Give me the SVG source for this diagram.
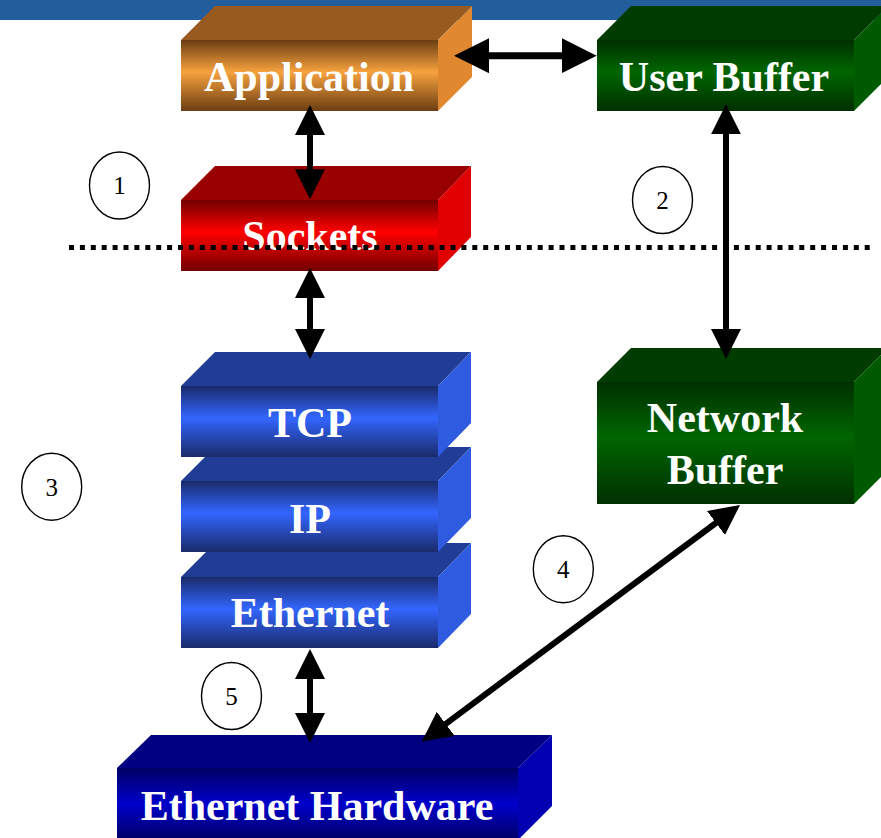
<svg xmlns="http://www.w3.org/2000/svg" width="881" height="838" viewBox="0 0 881 838">
  <defs>
    <linearGradient id="g-orange" x1="0" y1="0" x2="0" y2="1">
      <stop offset="0" stop-color="#6B3D12"/>
      <stop offset="0.45" stop-color="#F7A23E"/>
      <stop offset="1" stop-color="#6B3D12"/>
    </linearGradient>
    <linearGradient id="g-green" x1="0" y1="0" x2="0" y2="1">
      <stop offset="0" stop-color="#002F00"/>
      <stop offset="0.45" stop-color="#006600"/>
      <stop offset="1" stop-color="#002F00"/>
    </linearGradient>
    <linearGradient id="g-red" x1="0" y1="0" x2="0" y2="1">
      <stop offset="0" stop-color="#720000"/>
      <stop offset="0.45" stop-color="#FF0000"/>
      <stop offset="1" stop-color="#720000"/>
    </linearGradient>
    <linearGradient id="g-blue" x1="0" y1="0" x2="0" y2="1">
      <stop offset="0" stop-color="#1A2A6A"/>
      <stop offset="0.45" stop-color="#3366FF"/>
      <stop offset="1" stop-color="#1A2A6A"/>
    </linearGradient>
    <linearGradient id="g-navy" x1="0" y1="0" x2="0" y2="1">
      <stop offset="0" stop-color="#000064"/>
      <stop offset="0.5" stop-color="#0000CC"/>
      <stop offset="1" stop-color="#000064"/>
    </linearGradient>
    <marker id="head" markerUnits="userSpaceOnUse" markerWidth="30" markerHeight="30" refX="15" refY="15" orient="auto-start-reverse" viewBox="0 0 30 30">
      <path d="M0,0 L30,15 L0,30 Z" fill="#000"/>
    </marker>
    <marker id="head-lg" markerUnits="userSpaceOnUse" markerWidth="35" markerHeight="35" refX="17.5" refY="17.5" orient="auto-start-reverse" viewBox="0 0 35 35">
      <path d="M0,0 L35,17.5 L0,35 Z" fill="#000"/>
    </marker>
  </defs>
  <style>
    .label { font-family: "Liberation Serif", "Times New Roman", serif; font-weight: bold; font-size: 42px; fill: #FFFFFF; text-anchor: middle; }
    .num { font-family: "Liberation Serif", "Times New Roman", serif; font-size: 25px; fill: #000; text-anchor: middle; }
    .ring { fill: #FFFFFF; stroke: #000; stroke-width: 1.4; }
    .link { stroke: #000; stroke-width: 6; fill: none; marker-start: url(#head); marker-end: url(#head); }
    .link-lg { stroke: #000; stroke-width: 7; fill: none; marker-start: url(#head-lg); marker-end: url(#head-lg); }
    .boundary { stroke: #000; stroke-width: 5; stroke-dasharray: 5 5.9; fill: none; }
  </style>

  <rect width="881" height="838" fill="#FFFFFF"/>
  <!-- title band -->
  <rect x="0" y="0" width="881" height="20" fill="#215E9B"/>

  <g id="application">
    <polygon points="181,40 215,6 472,6 438,40" fill="#995A20"/>
    <polygon points="438,40 472,6 472,77 438,111" fill="#E08830"/>
    <rect x="181" y="40" width="257" height="71" fill="url(#g-orange)"/>
    <text class="label" x="309" y="91">Application</text>
  </g>

  <g id="user-buffer">
    <polygon points="597,40 631,6 888,6 854,40" fill="#003C00"/>
    <polygon points="854,40 888,6 888,77 854,111" fill="#005A00"/>
    <rect x="597" y="40" width="257" height="71" fill="url(#g-green)"/>
    <text class="label" x="724" y="91">User Buffer</text>
  </g>

  <g id="sockets">
    <polygon points="181,200 215,166 471,166 438,200" fill="#990000"/>
    <polygon points="438,200 471,166 471,237 438,271" fill="#E00000"/>
    <rect x="181" y="200" width="257" height="71" fill="url(#g-red)"/>
    <text class="label" x="310" y="250">Sockets</text>
  </g>

  <!-- user / kernel boundary, drawn across the sockets block -->
  <line class="boundary" x1="69" y1="247.5" x2="871" y2="247.5"/>

  <g id="ethernet">
    <polygon points="181,577 215,543 471,543 438,577" fill="#213C94"/>
    <polygon points="438,577 471,543 471,614 438,648" fill="#2E5BDF"/>
    <rect x="181" y="577" width="257" height="71" fill="url(#g-blue)"/>
    <text class="label" x="310" y="627">Ethernet</text>
  </g>

  <g id="ip">
    <polygon points="181,481 215,447 471,447 438,481" fill="#213C94"/>
    <polygon points="438,481 471,447 471,518 438,552" fill="#2E5BDF"/>
    <rect x="181" y="481" width="257" height="71" fill="url(#g-blue)"/>
    <text class="label" x="310" y="533">IP</text>
  </g>

  <g id="tcp">
    <polygon points="181,386 215,352 471,352 438,386" fill="#213C94"/>
    <polygon points="438,386 471,352 471,423 438,457" fill="#2E5BDF"/>
    <rect x="181" y="386" width="257" height="71" fill="url(#g-blue)"/>
    <text class="label" x="310" y="437">TCP</text>
  </g>

  <g id="network-buffer">
    <polygon points="597,382 631,348 888,348 854,382" fill="#003C00"/>
    <polygon points="854,382 888,348 888,470 854,504" fill="#005A00"/>
    <rect x="597" y="382" width="257" height="122" fill="url(#g-green)"/>
    <text class="label" x="725" y="432">Network</text>
    <text class="label" x="725" y="484">Buffer</text>
  </g>

  <g id="ethernet-hardware">
    <polygon points="117,768 151,735 552,735 518,768" fill="#000080"/>
    <polygon points="518,768 552,735 552,806 518,840" fill="#0000B0"/>
    <rect x="117" y="768" width="401" height="72" fill="url(#g-navy)"/>
    <text class="label" x="317" y="820">Ethernet Hardware</text>
  </g>

  <g id="connectors">
    <line class="link-lg" x1="471.5" y1="55.7" x2="579.2" y2="55.7"/>
    <line class="link" x1="310" y1="120" x2="310" y2="184.3"/>
    <line class="link" x1="310" y1="283" x2="310" y2="344"/>
    <line class="link" x1="310" y1="664" x2="310" y2="728"/>
    <line class="link" x1="726" y1="119.3" x2="726" y2="344"/>
    <line class="link" x1="728" y1="514" x2="433.7" y2="732.8"/>
  </g>

  <g id="step-1">
    <ellipse class="ring" cx="119.5" cy="185.5" rx="30" ry="33.5"/>
    <text class="num" x="119.5" y="194">1</text>
  </g>
  <g id="step-2">
    <ellipse class="ring" cx="662.5" cy="200" rx="30" ry="33.5"/>
    <text class="num" x="662.5" y="209">2</text>
  </g>
  <g id="step-3">
    <ellipse class="ring" cx="51.7" cy="486.7" rx="30" ry="33.5"/>
    <text class="num" x="51.7" y="495.5">3</text>
  </g>
  <g id="step-4">
    <ellipse class="ring" cx="563.3" cy="569.2" rx="30" ry="33.5"/>
    <text class="num" x="563.3" y="578">4</text>
  </g>
  <g id="step-5">
    <ellipse class="ring" cx="231.5" cy="696" rx="30" ry="33.5"/>
    <text class="num" x="231.5" y="705">5</text>
  </g>
</svg>
